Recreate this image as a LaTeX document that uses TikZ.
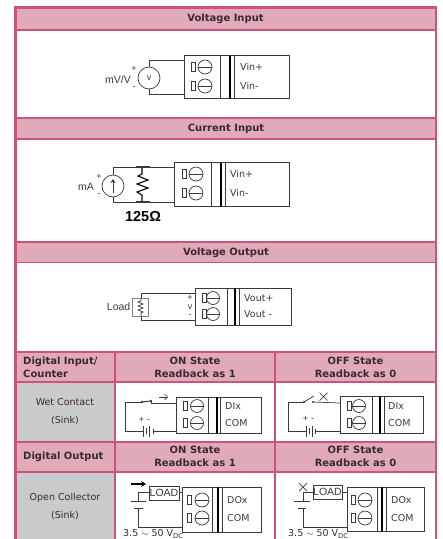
\documentclass[tikz,border=0pt]{standalone}
\usepackage{fontspec}
\setmainfont{DejaVu Sans}
\newfontfamily\arialfont{Liberation Sans}
\usetikzlibrary{fit,arrows.meta}
\definecolor{hdr}{HTML}{E1AAB8}
\definecolor{bord}{HTML}{C9557C}
\definecolor{cellgray}{HTML}{C9CACC}
\definecolor{ink}{HTML}{3A2A30}
\definecolor{wire}{HTML}{3A3A3A}
\tikzset{
  hdrcell/.style={fill=hdr,draw=bord,line width=1.2pt},
  graycell/.style={fill=cellgray,draw=bord,line width=1.2pt},
  whitecell/.style={fill=white,draw=bord,line width=1.2pt},
  head/.style={font=\fontsize{10}{13}\selectfont\bfseries,text=ink,align=center,inner sep=0},
  headl/.style={head,align=left,anchor=west},
  sidetext/.style={font=\fontsize{9.5}{18}\selectfont,text=ink,align=center,inner sep=0},
  lbl/.style={font=\arialfont\fontsize{10.5}{12}\selectfont,text=wire,inner sep=0},
  small/.style={font=\arialfont\fontsize{9}{9}\selectfont,text=wire,inner sep=0},
  term/.style={font=\fontsize{9.5}{12}\selectfont,text=wire,inner sep=0,anchor=west},
  vdc/.style={font=\fontsize{9.5}{10}\selectfont,text=ink,inner sep=0,anchor=west},
  wr/.style={draw=wire,line width=0.7pt},
  box/.style={draw=wire,line width=0.7pt,inner sep=0,fill=white},
  src/.style={circle,draw=wire,line width=0.7pt,inner sep=0,fill=white,minimum size=22pt},
}
% block: name x0 x1 y0 y1 v1 v2 v3
\newcommand{\tbbox}[8]{%
  \node[box,fit={(#2,#4)(#3,#5)}] (#1) {};
  \draw[wr] (#6,#4) -- (#6,#5);
  \draw[draw=black,line width=1.6pt] (#7,#4) -- (#7,#5);
  \draw[wr] (#8,#4) -- (#8,#5);
}
% terminal: name xrect xcirc r y xtext label
\newcommand{\tbterm}[7]{%
  \draw[wr] (#2,#5-4.5) rectangle (#2+4.5,#5+4.5);
  \node[circle,draw=wire,line width=0.7pt,inner sep=0,minimum size=2*#4 pt] (#1c) at (#3,#5) {};
  \draw[wr] (#3-#4,#5) -- (#3+#4,#5);
  \node[term] (#1t) at (#6,#5) {#7};
}
\begin{document}
\begin{tikzpicture}[x=1pt,y=-1pt]
\useasboundingbox (0,0) rectangle (443,539);
\fill[white] (0,0) rectangle (443,539);
% table cells
\draw[hdrcell] (16,7.5) rectangle (435.5,30);
\draw[whitecell] (16,30) rectangle (435.5,118);
\draw[hdrcell] (16,118) rectangle (435.5,139);
\draw[whitecell] (16,139) rectangle (435.5,242);
\draw[hdrcell] (16,242) rectangle (435.5,262.5);
\draw[whitecell] (16,262.5) rectangle (435.5,352);
\draw[hdrcell] (16,352) rectangle (115,382);
\draw[hdrcell] (115,352) rectangle (275,382);
\draw[hdrcell] (275,352) rectangle (435.5,382);
\draw[graycell] (16,382) rectangle (115,442);
\draw[whitecell] (115,382) rectangle (275,442);
\draw[whitecell] (275,382) rectangle (435.5,442);
\draw[hdrcell] (16,442) rectangle (115,472);
\draw[hdrcell] (115,442) rectangle (275,472);
\draw[hdrcell] (275,442) rectangle (435.5,472);
\draw[graycell] (16,472) rectangle (115,541);
\draw[whitecell] (115,472) rectangle (275,541);
\draw[whitecell] (275,472) rectangle (435.5,541);
\draw[bord,line width=2.2pt] (15.5,541) -- (15.5,7.5) -- (436,7.5) -- (436,541);
% headers
\node[head] (h1) at (225.5,18.5) {Voltage Input};
\node[head] (h2) at (226,129) {Current Input};
\node[head] (h3) at (226,252.5) {Voltage Output};
\node[headl] (h4) at (23,367) {Digital Input/\\Counter};
\node[head] (h5) at (195,367) {ON State\\Readback as 1};
\node[head] (h6) at (355.5,367) {OFF State\\Readback as 0};
\node[headl] (h7) at (23,457) {Digital Output};
\node[head] (h8) at (195,456.5) {ON State\\Readback as 1};
\node[head] (h9) at (355.5,456.5) {OFF State\\Readback as 0};
\node[sidetext] (s1) at (65,412) {Wet Contact\\(Sink)};
\node[sidetext] (s2) at (65,507) {Open Collector\\(Sink)};
% Voltage input
\tbbox{b1}{184}{289}{55.5}{98.5}{220}{230}{234}
\tbterm{b1a}{191}{205}{7}{67}{240}{Vin+}
\tbterm{b1b}{191}{205}{7}{86}{240}{Vin-}
\coordinate (b1x) at (184,60.5);
\coordinate (b1y) at (184,94.5);
\node[src] (v1) at (149,78) {};
\node[small] (v1l) at (v1) {v};
\draw[wr] (v1.north) |- (b1x);
\draw[wr] (v1.south) |- (b1y);
\node[lbl,anchor=east] (v1n) at (131,80) {mV/V};
\node[small] (v1p) at (134,69) {+};
\node[small] (v1m) at (134,88) {-};
% Current input
\tbbox{b2}{174}{289}{162.5}{206.5}{211}{221}{225}
\tbterm{b2a}{182}{196}{7}{174}{230}{Vin+}
\tbterm{b2b}{182}{196}{7}{193}{230}{Vin-}
\coordinate (b2x) at (174,167);
\coordinate (b2y) at (174,202);
\node[src] (i1) at (113,186) {};
\draw[wr,-{Stealth[length=4pt,width=5pt]}] (113,193) -- (113,179);
\draw[wr] (i1.north) |- (b2x);
\draw[wr] (i1.south) |- (b2y);
\coordinate (r1a) at (142,167);
\coordinate (r1b) at (142,202);
\draw[black,line width=1.1pt] (r1a) -- (142,174) -- (138,176) -- (148,180) -- (137,184) -- (148,188) -- (137,192) -- (142,195) -- (r1b);
\draw[wr,line width=1.1pt] (136,167) -- (150,167) (136,202) -- (150,202);
\node[lbl,anchor=east] (i1n) at (94,187) {mA};
\node[small] (i1p) at (99,177) {+};
\node[small] (i1m) at (99,195) {-};
\node[font=\arialfont\fontsize{14.5}{16}\selectfont\bfseries,text=black,inner sep=0] (i1r) at (143,216.5) {125Ω};
% Voltage output
\tbbox{b3}{195}{291}{288}{325}{227}{235}{239}
\tbterm{b3a}{202}{213}{6.5}{298}{244}{Vout+}
\tbterm{b3b}{202}{213}{6.5}{314}{244}{Vout -}
\coordinate (b3x) at (195,293);
\coordinate (b3y) at (195,320);
\node[box,fit={(132,298)(148,316)},draw=gray] (l1) {};
\coordinate (l1c) at (141,307);
\draw[wr] (l1.north -| l1c) -- (141,293) -- (b3x);
\draw[wr] (l1.south -| l1c) -- (141,320) -- (b3y);
\draw[wr] (141,298) -- (141,301) -- (138,302) -- (143,304) -- (138,306) -- (143,308) -- (138,310) -- (143,312) -- (141,313) -- (141,316);
\node[lbl,anchor=east] (l1n) at (130.5,307) {Load};
\node[small] (l1p) at (190,298) {+};
\node[small] (l1v) at (190,307) {v};
\node[small] (l1m) at (190,316) {-};
% Digital input ON
\tbbox{b4}{176}{261}{397}{433}{208}{217}{220}
\tbterm{b4a}{183}{197}{6.5}{406}{225}{DIx}
\tbterm{b4b}{183}{197}{6.5}{423}{225}{COM}
\coordinate (b4x) at (176,403);
\coordinate (b4y) at (176,431);
\coordinate (s4a) at (142,402);
\coordinate (s4b) at (151,401);
\coordinate (p4a) at (143,431);
\coordinate (p4b) at (153,431);
\draw[wr] (s4a) -- (125,402) |- (p4a);
\draw[wr] (s4b) -- (151,403) -- (b4x);
\draw[wr] (p4b) -- (b4y);
\draw[wr,line width=1pt] (s4a) -- (s4b);
\fill[wire] (s4a) circle (1.3) (s4b) circle (1.3);
\draw[wr] (p4a) ++(0,-5) -- ++(0,11) (146.5,428) -- (146.5,434) (149.5,425.5) -- (149.5,436.5) (153,428.5) -- (153,433.5);
\draw[wr,-{Straight Barb[length=3pt,width=6pt]}] (159,397) -- (168,397);
\node[small] (p4t) at (144.5,419.5) {+\,\,-};
% Digital input OFF
\tbbox{b5}{340}{423}{396.5}{433}{372}{380}{384}
\tbterm{b5a}{347}{359}{6.5}{406}{388}{DIx}
\tbterm{b5b}{347}{359}{6.5}{423}{388}{COM}
\coordinate (b5x) at (340,403);
\coordinate (b5y) at (340,431);
\coordinate (s5a) at (304,402);
\coordinate (s5b) at (313,402);
\coordinate (p5a) at (306,431);
\coordinate (p5b) at (315,431);
\draw[wr] (s5a) -- (288,402) |- (p5a);
\draw[wr] (s5b) -- (b5x);
\draw[wr] (p5b) -- (b5y);
\draw[wr] (s5a) -- (314,396);
\fill[wire] (s5a) circle (1.2) (s5b) circle (1.2);
\draw[wr] (p5a) ++(0,-5) -- ++(0,11) (309,428) -- (309,434) (312,425.5) -- (312,436.5) (315,428.5) -- (315,433.5);
\draw[wr] (319.5,392.5) -- (327.5,400.5) (319.5,400.5) -- (327.5,392.5);
\node[small] (p5t) at (308.5,419) {+\,\,-};
% Digital output ON
\tbbox{b6}{182}{261}{487}{532}{212}{218}{222}
\tbterm{b6a}{187}{202}{7}{500}{227}{DOx}
\tbterm{b6b}{187}{202}{7}{518}{227}{COM}
\coordinate (b6x) at (182,492.5);
\coordinate (b6y) at (182,527);
\node[box,fit={(149,486)(179,500)}] (l6) {};
\node[lbl] (l6t) at (l6) {LOAD};
\draw[wr] (l6.east |- b6x) -- (b6x);
\coordinate (t6a) at (138,501);
\coordinate (t6b) at (138,508);
\draw[wr] (l6.west |- b6x) -- (138,492.5) -- (t6a);
\draw[wr] (131,501) -- (146,501);
\draw[wr] (134,508) -- (143,508);
\draw[wr] (t6b) |- (b6y);
\draw[black,line width=1.1pt,-{Stealth[length=5pt,width=6pt]}] (131,484) -- (146,484);
\node[vdc] (d6) at (123,534) {3.5 $\sim$ 50 V\textsubscript{DC}};
% Digital output OFF
\tbbox{b7}{347}{424}{487}{531}{377}{382}{386}
\tbterm{b7a}{351}{365}{7}{500}{391}{DOx}
\tbterm{b7b}{351}{365}{7}{518}{391}{COM}
\coordinate (b7x) at (347,492.5);
\coordinate (b7y) at (347,527);
\node[box,fit={(313,485)(342,499.5)}] (l7) {};
\node[lbl] (l7t) at (l7) {LOAD};
\draw[wr] (l7.east |- b7x) -- (b7x);
\coordinate (t7a) at (303,501);
\coordinate (t7b) at (303,508);
\draw[wr] (l7.west |- b7x) -- (303,492.5) -- (t7a);
\draw[wr] (294,501) -- (310,501);
\draw[wr] (298,508) -- (306,508);
\draw[wr] (t7b) |- (b7y);
\draw[wr] (299,483) -- (307,491) (299,491) -- (307,483);
\node[vdc] (d7) at (288,534) {3.5 $\sim$ 50 V\textsubscript{DC}};
\end{tikzpicture}
\end{document}
